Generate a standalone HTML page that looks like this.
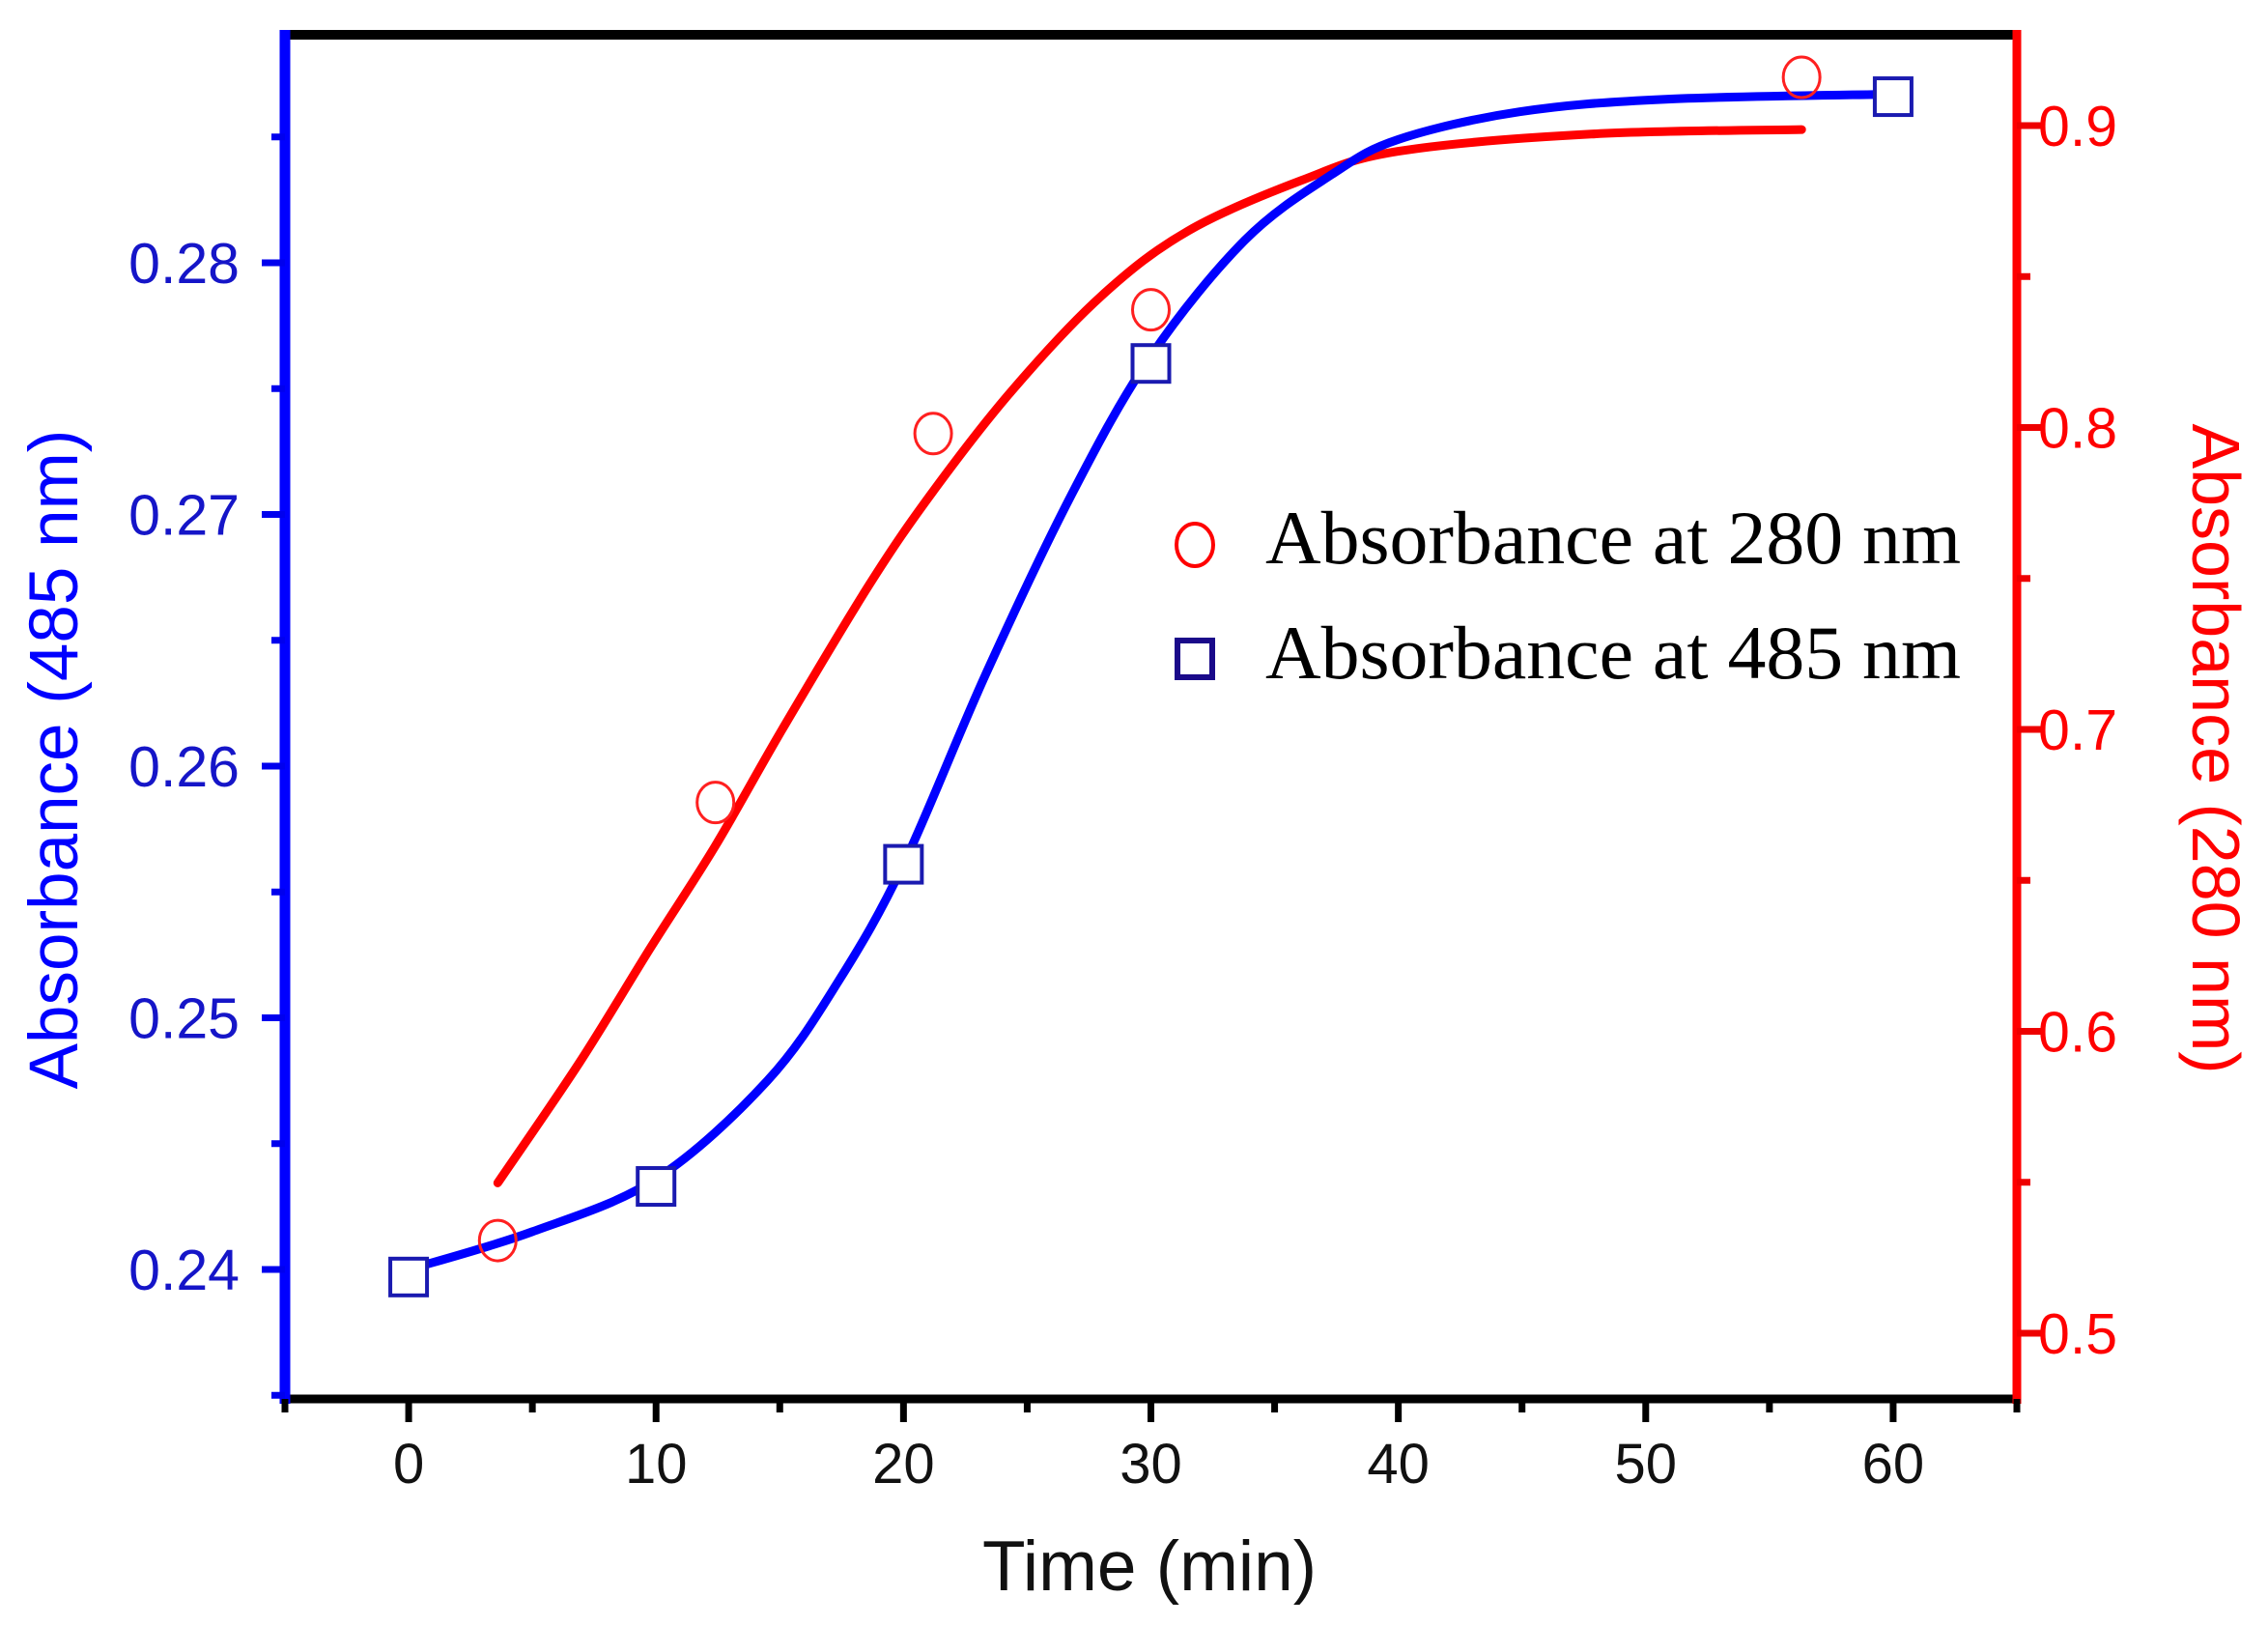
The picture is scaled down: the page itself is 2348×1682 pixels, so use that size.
<!DOCTYPE html>
<html><head><meta charset="utf-8"><style>html,body{margin:0;padding:0;background:#fff}svg{display:block}</style></head>
<body>
<svg id="chart" width="2348" height="1682" viewBox="0 0 2348 1682" xmlns="http://www.w3.org/2000/svg">
<g id="plot"></g>
</svg>
<script>
const xTicks=[0,10,20,30,40,50,60];
const xMinor=[-5,5,15,25,35,45,55,65];
const leftTicks=[0.24,0.25,0.26,0.27,0.28];
const leftTickLabels=["0.24","0.25","0.26","0.27","0.28"];
const leftMinor=[0.235,0.245,0.255,0.265,0.275,0.285];
const rightTicks=[0.5,0.6,0.7,0.8,0.9];
const rightTickLabels=["0.5","0.6","0.7","0.8","0.9"];
const rightMinor=[0.55,0.65,0.75,0.85];
const blueX=[0,10,20,30,60];
const blueY=[0.2397,0.2433,0.2561,0.2760,0.2866];
const redX=[3.6,12.4,21.2,30,56.3];
const redY=[0.5307,0.6758,0.798,0.839,0.916];
const blueFitX=[0,5,10,14.5,17.4,20,23.3,26.8,30,33.8,37.3,40,44.9,50.8,60];
const blueFitY=[0.2400,0.2415,0.2436,0.2475,0.2515,0.2561,0.2636,0.2708,0.2763,0.2809,0.2835,0.2849,0.2860,0.2865,0.2867];
const redFitX=[3.6,6.9,9.8,12.4,15.1,18.6,21.2,24.4,28.0,31.5,36.1,40,47.8,56.3];
const redFitY=[0.5498,0.5896,0.628,0.6615,0.700,0.7477,0.7789,0.8124,0.8436,0.8651,0.8819,0.8915,0.8972,0.8987];

const L=295,R=2088,T=36,B=1448;
function xS(v){return L+(v+5)*(R-L)/70;}
function yL(v){return 1314-(v-0.24)*26050;}
function yR(v){return 1380-(v-0.5)*3125;}
const NS="http://www.w3.org/2000/svg";
const g=document.getElementById('plot');
function mk(tag,attrs,parent){const e=document.createElementNS(NS,tag);for(const k in attrs)e.setAttribute(k,attrs[k]);(parent||g).appendChild(e);return e;}

let e;
e=mk('line',{x1:L-4,y1:T,x2:R,y2:T,stroke:'#000','stroke-width':10});


e=mk('line',{x1:L-4,y1:B,x2:R,y2:B,stroke:'#000','stroke-width':9});


e=mk('line',{x1:L,y1:T-5,x2:L,y2:B+5,stroke:'#0000ff','stroke-width':11});


e=mk('line',{x1:R,y1:T-5,x2:R,y2:B+5,stroke:'#ff0000','stroke-width':9});



xTicks.forEach((v,i)=>{
  const t=mk('line',{x1:xS(v),y1:B,x2:xS(v),y2:B+24,stroke:'#000','stroke-width':7});
  
  
  const tx=mk('text',{x:xS(v),y:1535,'text-anchor':'middle','font-family':'Liberation Sans, sans-serif','font-size':58,fill:'#111'});
  tx.textContent=String(v);
  
  
});
xMinor.forEach(v=>{
  const t=mk('line',{x1:xS(v),y1:B,x2:xS(v),y2:B+14,stroke:'#000','stroke-width':7});
  
  
});
leftTicks.forEach((v,i)=>{
  const t=mk('line',{x1:L-24,y1:yL(v),x2:L,y2:yL(v),stroke:'#0000ee','stroke-width':7});
  
  
  const tx=mk('text',{x:248,y:yL(v)+21,'text-anchor':'end','font-family':'Liberation Sans, sans-serif','font-size':59,fill:'#1515c8'});
  tx.textContent=leftTickLabels[i];
  
  
});
leftMinor.forEach(v=>{
  const t=mk('line',{x1:L-14,y1:yL(v),x2:L,y2:yL(v),stroke:'#0000ee','stroke-width':7});
  
  
});
rightTicks.forEach((v,i)=>{
  const t=mk('line',{x1:R,y1:yR(v),x2:R+26,y2:yR(v),stroke:'#ee0000','stroke-width':7});
  
  
  const tx=mk('text',{x:2110,y:yR(v)+21,'text-anchor':'start','font-family':'Liberation Sans, sans-serif','font-size':59,fill:'#ff0000'});
  tx.textContent=rightTickLabels[i];
  
  
});
rightMinor.forEach(v=>{
  const t=mk('line',{x1:R,y1:yR(v),x2:R+14,y2:yR(v),stroke:'#ee0000','stroke-width':7});
  
  
});

e=mk('text',{x:1190,y:1646,'text-anchor':'middle','font-family':'Liberation Sans, sans-serif','font-size':73,fill:'#111'});
e.textContent='Time (min)';


e=mk('text',{x:0,y:0,transform:'translate(80,786) rotate(-90)','text-anchor':'middle','font-family':'Liberation Sans, sans-serif','font-size':71,fill:'#0000ff'});
e.textContent='Absorbance (485 nm)';


e=mk('text',{x:0,y:0,transform:'translate(2270,775) rotate(90)','text-anchor':'middle','font-family':'Liberation Sans, sans-serif','font-size':70,fill:'#ff0000'});
e.textContent='Absorbance (280 nm)';



function smoothPath(xs,ys,yf){
  const p=xs.map((x,i)=>[xS(x),yf(ys[i])]);
  let d='M'+p[0][0].toFixed(1)+' '+p[0][1].toFixed(1);
  for(let i=0;i<p.length-1;i++){
    const p0=p[i-1]||p[i],p1=p[i],p2=p[i+1],p3=p[i+2]||p[i+1];
    const c1=[p1[0]+(p2[0]-p0[0])/6,p1[1]+(p2[1]-p0[1])/6];
    const c2=[p2[0]-(p3[0]-p1[0])/6,p2[1]-(p3[1]-p1[1])/6];
    d+=' C'+c1[0].toFixed(1)+' '+c1[1].toFixed(1)+' '+c2[0].toFixed(1)+' '+c2[1].toFixed(1)+' '+p2[0].toFixed(1)+' '+p2[1].toFixed(1);
  }
  return d;
}
e=mk('path',{d:smoothPath(redFitX,redFitY,yR),fill:'none',stroke:'#ff0000','stroke-width':9,'stroke-linecap':'round','stroke-linejoin':'round'});


e=mk('path',{d:smoothPath(blueFitX,blueFitY,yL),fill:'none',stroke:'#0000ff','stroke-width':9,'stroke-linecap':'round','stroke-linejoin':'round'});



blueX.forEach((x,i)=>{
  const s=mk('rect',{x:xS(x)-19,y:yL(blueY[i])-19,width:38,height:38,fill:'#fff',stroke:'#1a1ab0','stroke-width':4});
  
  
});
redX.forEach((x,i)=>{
  const c=mk('ellipse',{cx:xS(x),cy:yR(redY[i]),rx:19,ry:21,fill:'none',stroke:'#ff2020','stroke-width':3});
  
  
});

const lg=mk('g',{});


e=mk('ellipse',{cx:1237,cy:564,rx:19,ry:22,fill:'none',stroke:'#ff0000','stroke-width':4},lg);


e=mk('text',{x:1310,y:583,'font-family':'Liberation Serif, serif','font-size':78,fill:'#000',textLength:720,lengthAdjust:'spacingAndGlyphs'},lg);
e.textContent='Absorbance at 280 nm';


e=mk('rect',{x:1219,y:663,width:36,height:38,fill:'#fff',stroke:'#1a0a8a','stroke-width':6},lg);


e=mk('text',{x:1310,y:702,'font-family':'Liberation Serif, serif','font-size':78,fill:'#000',textLength:720,lengthAdjust:'spacingAndGlyphs'},lg);
e.textContent='Absorbance at 485 nm';


</script>
</body></html>
